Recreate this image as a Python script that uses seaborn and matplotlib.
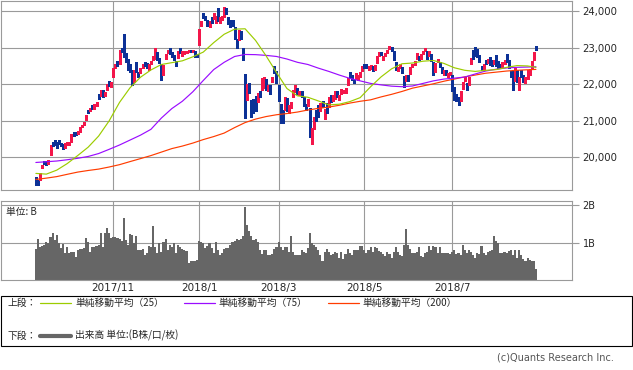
import numpy as np
import pandas as pd
import matplotlib
matplotlib.use("Agg")
import matplotlib.pyplot as plt
from matplotlib.lines import Line2D
from matplotlib.patches import Rectangle
import seaborn as sns

# ---- daily prices (trading day index 0 = 2017/9/7) ----
opens = [19420, 19340, 19370, 19720, 19880, 19870, 19830, 20080, 20340, 20420,
         20380, 20420, 20370, 20320, 20280, 20340, 20370, 20430, 20650, 20660,
         20650, 20720, 20840, 20920, 21040, 21260, 21300, 21420, 21380, 21450,
         21710, 21690, 21830, 21720, 21850, 22050, 21990, 22230, 22460, 22620,
         22580, 22960, 23010, 22800, 22640, 22470, 22340, 22060, 22440, 22310,
         22320, 22470, 22580, 22560, 22450, 22590, 22690, 22780, 22860, 22700,
         22540, 22280, 22700, 22890, 22950, 22860, 22740, 22620, 22740, 22960,
         22830, 22860, 22880, 22920, 22910, 22880, 22880, 22830, 23073, 23640,
         23950, 23830, 23740, 23640, 23760, 23800, 23780, 23980, 23760, 23800,
         23840, 24080, 23830, 23690, 23700, 23550, 23240, 23280, 23400, 22950,
         22280, 21620, 21960, 21500, 21560, 21650, 21530, 21740, 21850, 21940,
         22130, 21850, 21950, 22100, 22480, 22300, 21900, 21400, 21250, 21290,
         21600, 21300, 21380, 21660, 21800, 21880, 21750, 21780, 21620, 21390,
         21480, 21300, 20500, 20800, 21240, 21400, 21300, 21450, 21200, 21420,
         21400, 21620, 21580, 21650, 21760, 21600, 21760, 21800, 21800, 21980,
         22250, 22210, 22100, 22180, 22200, 22250, 22380, 22520, 22530, 22400,
         22490, 22480, 22450, 22600, 22820, 22850, 22700, 22800, 22870, 22990,
         23010, 22900, 22550, 22380, 22480, 22430, 22200, 22100, 22250, 22300,
         22500, 22550, 22720, 22750, 22720, 22850, 22930, 22900, 22800, 22800,
         22600, 22350, 22650, 22600, 22450, 22300, 22380, 22250, 22290, 22200,
         21880, 21700, 21620, 21560, 21900, 22100, 22000, 21980, 22560, 22880,
         22990, 22950, 22780, 22500, 22420, 22650, 22580, 22720, 22640, 22580,
         22710, 22620, 22530, 22500, 22560, 22800, 22640, 22330, 22390, 22110,
         22360, 21850, 22330, 22230, 22060, 22170, 22280, 22430, 22680, 23030]

highs = [19450, 19380, 19560, 19790, 19890, 19880, 19920, 20330, 20420, 20480,
         20400, 20460, 20390, 20350, 20390, 20400, 20420, 20630, 20680, 20690,
         20720, 20830, 20890, 20960, 21160, 21290, 21340, 21430, 21450, 21500,
         21720, 21830, 21830, 21780, 22010, 22080, 22050, 22430, 22560, 22640,
         22940, 23000, 23382, 22850, 22680, 22560, 22380, 22400, 22600, 22330,
         22430, 22560, 22600, 22580, 22540, 22640, 22760, 22990, 22870, 22710,
         22550, 22520, 22830, 22950, 23000, 22880, 22810, 22640, 22910, 22980,
         22900, 22900, 22920, 22950, 22930, 22930, 22900, 22840, 23506, 23730,
         23952, 23864, 23760, 23720, 23830, 23960, 23880, 24080, 23830, 23860,
         24130, 24100, 23850, 23760, 23750, 23570, 23250, 23500, 23450, 23000,
         22290, 22000, 22020, 21560, 21600, 21680, 21760, 21800, 22170, 22200,
         22150, 21990, 21980, 22200, 22500, 22360, 21980, 21450, 21300, 21650,
         21620, 21420, 21520, 21840, 21970, 21900, 21820, 21810, 21650, 21450,
         21600, 21350, 20800, 21100, 21300, 21420, 21470, 21530, 21320, 21470,
         21650, 21700, 21700, 21800, 21800, 21700, 21860, 21850, 21900, 22170,
         22330, 22250, 22150, 22300, 22260, 22340, 22500, 22560, 22560, 22510,
         22530, 22500, 22520, 22780, 22880, 22880, 22770, 22860, 22950, 23050,
         23020, 22910, 22600, 22480, 22540, 22470, 22230, 22250, 22260, 22480,
         22560, 22640, 22860, 22780, 22820, 22920, 23000, 22920, 22900, 22820,
         22620, 22580, 22700, 22620, 22460, 22380, 22400, 22300, 22340, 22250,
         21920, 21720, 21640, 21800, 22060, 22200, 22040, 22200, 22720, 22950,
         23010, 22960, 22800, 22510, 22550, 22670, 22700, 22740, 22650, 22670,
         22800, 22640, 22560, 22620, 22670, 22830, 22660, 22350, 22400, 22440,
         22380, 22200, 22400, 22260, 22200, 22380, 22420, 22630, 22870, 23050]

lows = [19240, 19240, 19360, 19700, 19820, 19780, 19810, 20050, 20290, 20330,
        20260, 20360, 20290, 20230, 20260, 20320, 20340, 20420, 20590, 20600,
        20640, 20700, 20820, 20880, 21010, 21210, 21250, 21330, 21330, 21400,
        21600, 21680, 21640, 21680, 21840, 21960, 21920, 22210, 22430, 22500,
        22560, 22880, 22740, 22600, 22380, 22340, 21970, 22050, 22330, 22200,
        22300, 22450, 22510, 22450, 22400, 22560, 22650, 22690, 22660, 22570,
        22120, 22250, 22680, 22850, 22840, 22740, 22650, 22510, 22730, 22850,
        22780, 22830, 22850, 22880, 22870, 22870, 22740, 22750, 23065, 23600,
        23820, 23753, 23600, 23580, 23690, 23780, 23690, 23740, 23690, 23770,
        23830, 23930, 23650, 23570, 23600, 23230, 22990, 23210, 23230, 22660,
        21078, 21560, 21760, 21100, 21200, 21250, 21500, 21650, 21840, 21900,
        21850, 21820, 21720, 22050, 22300, 22040, 21550, 20930, 20937, 21280,
        21250, 21220, 21340, 21640, 21780, 21720, 21700, 21640, 21400, 21300,
        21400, 20560, 20347, 20780, 20980, 21100, 21250, 21370, 21056, 21200,
        21380, 21500, 21550, 21600, 21640, 21560, 21740, 21760, 21770, 21970,
        22160, 22110, 22030, 22140, 22120, 22200, 22360, 22450, 22430, 22380,
        22420, 22350, 22400, 22590, 22780, 22790, 22660, 22780, 22850, 22970,
        22920, 22660, 22400, 22360, 22440, 22300, 21930, 22080, 22100, 22290,
        22470, 22530, 22700, 22650, 22690, 22820, 22910, 22700, 22760, 22630,
        22260, 22320, 22600, 22480, 22300, 22250, 22260, 22200, 22260, 21800,
        21560, 21540, 21430, 21550, 21880, 22080, 21850, 21970, 22540, 22680,
        22780, 22740, 22600, 22380, 22400, 22560, 22570, 22520, 22500, 22540,
        22490, 22430, 22460, 22470, 22540, 22620, 22430, 22190, 21850, 22080,
        22050, 21830, 22190, 22050, 22030, 22150, 22260, 22410, 22660, 22950]

closes = [19370, 19275, 19545, 19776, 19865, 19807, 19910, 20299, 20310, 20347,
          20296, 20397, 20330, 20267, 20363, 20356, 20400, 20614, 20626, 20628,
          20690, 20823, 20881, 20954, 21155, 21255, 21336, 21363, 21448, 21457,
          21697, 21805, 21707, 21739, 22008, 22011, 22011, 22420, 22539, 22548,
          22937, 22914, 22869, 22681, 22381, 22380, 22028, 22351, 22397, 22261,
          22417, 22523, 22550, 22495, 22486, 22597, 22725, 22819, 22707, 22622,
          22177, 22498, 22811, 22938, 22866, 22758, 22694, 22553, 22901, 22868,
          22892, 22866, 22902, 22939, 22892, 22912, 22783, 22765, 23506, 23715,
          23850, 23788, 23711, 23654, 23715, 23952, 23868, 23763, 23808, 23816,
          24124, 23940, 23669, 23631, 23629, 23291, 23098, 23486, 23274, 22682,
          21610, 21950, 21890, 21382, 21245, 21300, 21740, 21720, 22150, 22110,
          21880, 21970, 21740, 22153, 22330, 22068, 21600, 21182, 21042, 21620,
          21300, 21368, 21469, 21824, 21968, 21777, 21803, 21676, 21480, 21380,
          21591, 20617, 20766, 21060, 21031, 21159, 21454, 21388, 21292, 21319,
          21645, 21567, 21678, 21794, 21687, 21660, 21778, 21835, 21847, 22158,
          22191, 22162, 22088, 22278, 22215, 22319, 22467, 22508, 22472, 22467,
          22509, 22408, 22497, 22758, 22866, 22818, 22717, 22838, 22930, 23002,
          22960, 22689, 22437, 22450, 22481, 22358, 22018, 22201, 22171, 22475,
          22539, 22625, 22823, 22694, 22804, 22878, 22966, 22738, 22851, 22680,
          22278, 22555, 22693, 22516, 22338, 22342, 22271, 22270, 22304, 21811,
          21600, 21560, 21546, 21788, 22052, 22196, 21932, 22187, 22700, 22697,
          22800, 22764, 22697, 22397, 22510, 22614, 22680, 22540, 22544, 22660,
          22510, 22450, 22525, 22600, 22662, 22644, 22450, 22210, 21870, 22420,
          22080, 22170, 22200, 22070, 22170, 22360, 22400, 22620, 22850, 22960]

# volume in billions of shares
volume_b = [0.84, 1.10, 0.91, 0.93, 0.96, 1.04, 1.00, 1.16, 1.26, 1.09,
            1.22, 1.00, 0.87, 0.98, 0.74, 0.89, 0.75, 0.78, 0.76, 0.63,
            0.82, 0.84, 0.85, 0.87, 1.13, 1.04, 0.78, 0.89, 0.91, 0.93,
            0.94, 1.26, 0.91, 1.26, 1.39, 1.26, 1.13, 1.16, 1.16, 1.13,
            1.10, 1.05, 1.66, 1.09, 0.96, 1.25, 1.22, 1.00, 1.18, 0.81,
            0.82, 0.84, 0.69, 0.75, 0.93, 0.90, 1.46, 0.91, 0.74, 1.00,
            0.78, 1.02, 1.10, 0.82, 0.96, 0.91, 1.00, 0.75, 0.96, 0.91,
            0.84, 0.82, 0.80, 0.47, 0.52, 0.52, 0.54, 0.55, 1.07, 1.04,
            1.00, 0.87, 0.93, 1.00, 0.87, 0.75, 1.04, 0.82, 0.69, 0.75,
            0.84, 0.87, 0.87, 0.96, 1.04, 1.07, 1.10, 1.09, 1.12, 1.20,
            1.96, 1.48, 1.31, 1.19, 1.09, 1.10, 1.02, 0.82, 0.72, 0.82,
            0.82, 0.69, 0.69, 0.72, 0.84, 0.91, 1.02, 0.91, 0.82, 0.91,
            0.91, 0.78, 1.18, 0.78, 0.69, 0.69, 0.69, 0.81, 0.78, 0.74,
            0.87, 1.28, 1.00, 0.96, 0.91, 0.82, 0.69, 0.52, 0.78, 0.84,
            0.78, 0.69, 0.72, 0.78, 0.74, 0.61, 0.78, 0.58, 0.72, 0.84,
            0.75, 0.69, 0.81, 0.81, 0.82, 0.93, 0.93, 0.82, 0.75, 0.82,
            0.89, 0.78, 0.89, 0.87, 0.80, 0.78, 0.72, 0.67, 0.78, 0.72,
            0.61, 0.78, 0.91, 0.78, 0.70, 0.65, 0.96, 1.38, 0.96, 0.84,
            0.75, 0.74, 0.78, 0.91, 0.67, 0.63, 0.74, 0.78, 0.93, 0.82,
            0.93, 0.91, 0.74, 0.91, 0.74, 0.75, 0.75, 0.74, 0.72, 0.78,
            0.81, 0.72, 0.74, 0.69, 0.96, 0.82, 0.74, 0.81, 0.78, 0.70,
            0.61, 0.75, 0.72, 0.93, 0.74, 0.69, 0.78, 0.80, 0.82, 1.19,
            1.07, 1.00, 0.75, 0.75, 0.78, 0.75, 0.80, 0.82, 0.69, 0.82,
            0.61, 0.82, 0.70, 0.58, 0.52, 0.61, 0.56, 0.52, 0.52, 0.32]

# moving averages every 5 trading days
ma_days = [0, 5, 10, 15, 20, 25, 30, 35, 40, 45, 50, 55, 60, 65, 70, 75,
           80, 85, 90, 95, 100, 105, 110, 115, 120, 125, 130, 135, 140, 145,
           150, 155, 160, 165, 170, 175, 180, 185, 190, 195, 200, 205, 210,
           215, 220, 225, 230, 235, 239]
ma25 = [19550, 19530, 19640, 19820, 20040, 20270, 20575, 20990, 21500, 21900,
        22190, 22390, 22540, 22590, 22640, 22750, 22880, 23140, 23370, 23510,
        23520, 23200, 22780, 22320, 21880, 21680, 21640, 21540, 21430, 21450,
        21520, 21630, 21930, 22200, 22420, 22560, 22580, 22630, 22650, 22570,
        22450, 22380, 22350, 22380, 22400, 22460, 22510, 22500, 22460]
ma75 = [19850, 19870, 19890, 19925, 19965, 20015, 20095, 20210, 20330, 20465,
        20600, 20760, 21070, 21330, 21530, 21790, 22100, 22400, 22600, 22760,
        22815, 22810, 22790, 22760, 22690, 22600, 22540, 22440, 22350, 22250,
        22160, 22090, 22020, 21980, 21945, 21930, 21950, 22020, 22090, 22140,
        22165, 22195, 22280, 22360, 22410, 22445, 22462, 22470, 22478]
ma200 = [19385, 19420, 19462, 19525, 19586, 19630, 19668, 19725, 19790, 19874,
         19956, 20039, 20135, 20231, 20300, 20382, 20478, 20561, 20657, 20808,
         20945, 21041, 21110, 21160, 21193, 21234, 21290, 21335, 21371, 21420,
         21480, 21530, 21570, 21650, 21720, 21800, 21890, 21950, 22010, 22080,
         22140, 22200, 22250, 22300, 22330, 22360, 22380, 22395, 22405]

month_pos = [37, 78, 116, 157, 199]
month_labels = ["2017/11", "2018/1", "2018/3", "2018/5", "2018/7"]
price_ticks = [20000, 21000, 22000, 23000, 24000]
price_labels = ["20,000", "21,000", "22,000", "23,000", "24,000"]
vol_ticks = [1, 2]
vol_labels = ["1B", "2B"]

UP = "#f3164a"
DOWN = "#0c3196"
GRID = "#9a9a9a"
JP = ["Noto Sans CJK JP", "DejaVu Sans"]

sns.set_style("white")
plt.rcParams['font.family'] = ['DejaVu Sans', 'Noto Sans CJK JP']

W, H = 633, 370
fig = plt.figure(figsize=(W / 100, H / 100), dpi=100)

def fx(px):
    return px / W

def fy(py):
    return 1 - py / H

ax_p = fig.add_axes([fx(0.5), fy(190.3), fx(571.5) - fx(0.5), (190.3 - 0.7) / H])
ax_v = fig.add_axes([fx(0.5), fy(280.3), fx(571.5) - fx(0.5), (280.3 - 201.3) / H])

df = pd.DataFrame({"day": np.arange(len(closes)), "open": opens, "high": highs,
                   "low": lows, "close": closes, "vol": volume_b})
df["up"] = df["close"] >= df["open"]
df["col"] = np.where(df["up"], UP, DOWN)

# candles
ax_p.vlines(df["day"], df["low"], df["high"], colors=df["col"], lw=0.75,
            antialiased=False, zorder=2)
body = (df["close"] - df["open"]).abs().clip(lower=20)
ax_p.bar(df["day"], body, bottom=df[["open", "close"]].min(axis=1), width=0.9,
         color=df["col"], linewidth=0, antialiased=False, zorder=2)

# moving averages
for vals, c in [(ma200, "#ff3c00"), (ma75, "#9a0cff"), (ma25, "#9ccc00")]:
    sns.lineplot(x=ma_days, y=vals, color=c, lw=0.85, ax=ax_p, zorder=3)

# volume
sns.barplot(x=df["day"], y=df["vol"], native_scale=True, width=1.0, color="#666666",
            saturation=1, linewidth=0, errorbar=None, ax=ax_v, zorder=2)

xlim = (-16.9, 256.0)
for ax in (ax_p, ax_v):
    ax.set_xlim(*xlim)
    ax.set_xticks(month_pos)
    ax.grid(True, color=GRID, lw=0.8)
    ax.set_axisbelow(True)
    ax.yaxis.tick_right()
    ax.tick_params(axis="y", which="both", length=5, width=0.8, color=GRID,
                   pad=3, labelsize=7.3, right=True, left=False)
    ax.tick_params(axis="x", length=0)
    ax.set_xlabel("")
    ax.set_ylabel("")
    for s in ax.spines.values():
        s.set_color(GRID)
        s.set_linewidth(0.8)

ax_p.set_ylim(19086, 24291)
ax_p.set_yticks(price_ticks)
ax_p.set_yticklabels(price_labels)
ax_p.set_xticklabels([])

ax_v.set_ylim(0.02, 2.105)
ax_v.set_yticks(vol_ticks)
ax_v.set_yticklabels(vol_labels, fontsize=7)
ax_v.set_xticklabels(month_labels, fontsize=7.5)
ax_v.tick_params(axis="x", pad=2)
ax_v.text(0.01, 0.93, "単位: B", transform=ax_v.transAxes, fontsize=7,
          family=JP, va="top", ha="left")

# legend box
fig.add_artist(Rectangle((fx(0.5), fy(346)), fx(632) - fx(0.5), 50 / H, fill=False,
                         edgecolor="black", lw=0.8, transform=fig.transFigure))
row1, row2 = 303.3, 335.7
fig.text(fx(8), fy(row1), "上段：", fontsize=7, family=JP, va="center")
fig.text(fx(8), fy(row2), "下段：", fontsize=7, family=JP, va="center")
for x0, c, lab in [(40, "#9ccc00", "単純移動平均（25）"),
                   (183.7, "#9a0cff", "単純移動平均（75）"),
                   (327.8, "#ff3c00", "単純移動平均（200）")]:
    fig.add_artist(Line2D([fx(x0), fx(x0 + 31)], [fy(row1), fy(row1)], color=c,
                          lw=0.9, transform=fig.transFigure))
    fig.text(fx(x0 + 35), fy(row1), lab, fontsize=7, family=JP, va="center")
fig.add_artist(Line2D([fx(40), fx(71)], [fy(row2), fy(row2)], color="#666666",
                      lw=3, transform=fig.transFigure))
fig.text(fx(75), fy(row2), "出来高 単位:(B株/口/枚)", fontsize=7, family=JP, va="center")
fig.text(fx(614), fy(357.7), "(c)Quants Research Inc.", fontsize=7, color="#555555",
         ha="right", va="center")

fig.savefig("out.png", dpi=100)
